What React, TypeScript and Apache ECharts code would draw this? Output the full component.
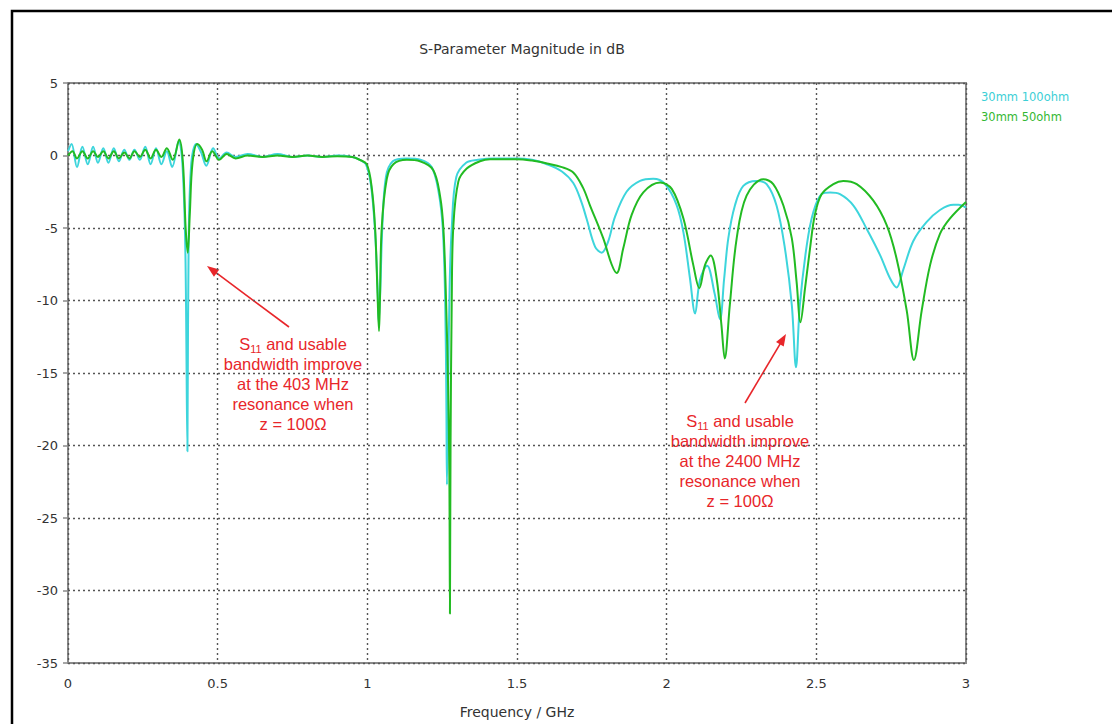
import React, { useEffect, useRef } from "react";
import * as echarts from "echarts";

const chartTitle = "S-Parameter Magnitude in dB";
const xName = "Frequency / GHz";
const seriesNames = ["30mm 100ohm", "30mm 50ohm"];

// 30mm 100ohm (cyan)
const freq100 = [
  0.0, 0.012, 0.03, 0.048, 0.066, 0.084, 0.1, 0.118, 0.135, 0.153, 0.17, 0.188, 0.205, 0.222, 0.24, 0.258, 0.276,
  0.294, 0.312, 0.33, 0.348, 0.37, 0.382, 0.392, 0.399, 0.403, 0.412, 0.428, 0.445, 0.462, 0.485, 0.505, 0.53, 0.56,
  0.6, 0.65, 0.7, 0.75, 0.8, 0.85, 0.9, 0.95, 0.975, 0.995, 1.012, 1.025, 1.034, 1.038, 1.043, 1.05, 1.062, 1.085,
  1.13, 1.18, 1.215, 1.238, 1.252, 1.26, 1.264, 1.266, 1.27, 1.275, 1.282, 1.297, 1.33, 1.37, 1.42, 1.5, 1.55, 1.6,
  1.65, 1.688, 1.715, 1.733, 1.761, 1.783, 1.805, 1.827, 1.866, 1.911, 1.955, 1.994, 2.033, 2.056, 2.078, 2.095,
  2.111, 2.135, 2.16, 2.178, 2.192, 2.206, 2.228, 2.256, 2.3, 2.334, 2.367, 2.395, 2.418, 2.432, 2.445, 2.468, 2.49,
  2.518, 2.546, 2.579, 2.624, 2.668, 2.713, 2.746, 2.768, 2.79, 2.824, 2.868, 2.913, 2.958, 2.975, 3.0,
];
const s100 = [
  0.3, 0.8, -0.8, 0.6, -0.6, 0.6, -0.5, 0.5, -0.5, 0.5, -0.4, 0.4, -0.3, 0.4, -0.3, 0.6, -0.6,
  0.5, -0.6, 0.3, -0.8, 1.0, -0.5, -6.5, -20.4, -6.0, -0.5, 0.8, 0.2, -0.7, 0.5, -0.2, 0.2, -0.1,
  0.1, -0.1, 0.1, -0.1, 0.0, -0.1, 0.0, -0.1, -0.3, -0.6, -2.0, -5.0, -9.0, -11.5, -9.5, -5.0, -1.5, -0.4,
  -0.2, -0.3, -0.8, -2.5, -5.0, -10.0, -17.0, -22.7, -16.0, -9.0, -5.0, -1.5, -0.5, -0.3, -0.2, -0.2, -0.3, -0.6,
  -1.1, -1.9, -3.2, -4.4, -6.3, -6.7, -5.9, -4.25, -2.5, -1.75, -1.6, -1.95, -3.4, -5.3, -8.5, -10.9,
  -8.6, -7.6, -9.5, -11.3, -8.5, -5.7, -3.45, -2.1, -1.75, -1.97, -3.45, -6.4, -10.3, -14.6, -10.3, -6.2, -3.9,
  -2.66, -2.55, -2.66, -3.45, -5.05, -6.87, -8.47, -9.1, -7.9, -5.9, -4.6, -3.76, -3.4, -3.4, -3.6,
];

// 30mm 50ohm (green)
const freq50 = [
  0.0, 0.015, 0.03, 0.048, 0.066, 0.084, 0.1, 0.118, 0.135, 0.153, 0.17, 0.188, 0.205, 0.222, 0.24, 0.258, 0.276,
  0.294, 0.312, 0.33, 0.35, 0.372, 0.384, 0.393, 0.4, 0.407, 0.416, 0.432, 0.448, 0.463, 0.482, 0.505, 0.53, 0.56,
  0.6, 0.65, 0.7, 0.75, 0.8, 0.85, 0.9, 0.95, 0.975, 0.998, 1.014, 1.026, 1.034, 1.039, 1.042, 1.048, 1.065, 1.087,
  1.132, 1.176, 1.22, 1.243, 1.254, 1.263, 1.27, 1.274, 1.276, 1.278, 1.282, 1.287, 1.304, 1.332, 1.376, 1.41, 1.5,
  1.55, 1.6, 1.65, 1.688, 1.72, 1.744, 1.788, 1.816, 1.833, 1.855, 1.883, 1.922, 1.978, 2.017, 2.056, 2.089, 2.109,
  2.128, 2.147, 2.167, 2.183, 2.194, 2.211, 2.234, 2.267, 2.323, 2.356, 2.39, 2.418, 2.434, 2.447, 2.462, 2.479,
  2.495, 2.518, 2.557, 2.59, 2.635, 2.69, 2.735, 2.768, 2.802, 2.826, 2.852, 2.88, 2.913, 2.946, 3.0,
];
const s50 = [
  0.0, 0.3, -0.2, 0.3, -0.2, 0.3, -0.1, 0.3, -0.2, 0.3, -0.2, 0.2, -0.2, 0.3, -0.1, 0.4, -0.2,
  0.4, -0.1, 0.5, -0.3, 1.1, -0.5, -5.0, -6.7, -4.0, -0.5, 0.8, 0.4, -0.4, 0.3, -0.3, 0.1, -0.2,
  0.0, -0.1, 0.0, -0.1, 0.0, -0.1, -0.05, -0.1, -0.3, -0.6, -2.1, -5.0, -9.5, -12.1, -10.0, -5.0, -1.6, -0.6,
  -0.3, -0.4, -1.0, -2.8, -5.0, -10.0, -16.0, -22.0, -31.6, -20.0, -10.0, -5.0, -1.8, -0.9, -0.4, -0.25, -0.25,
  -0.35, -0.55, -0.8, -1.17, -2.2, -3.45, -5.7, -7.5, -8.1, -6.4, -4.1, -2.54, -1.86, -2.3, -4.35, -7.56, -9.15,
  -7.56, -6.9, -8.5, -11.7, -14.0, -10.3, -5.7, -2.77, -1.63, -1.97, -3.45, -5.7, -8.7, -11.5, -9.2, -6.4,
  -4.1, -2.66, -1.97, -1.75, -1.97, -3.1, -4.8, -7.1, -10.7, -14.1, -10.7, -7.56, -5.4, -4.35, -3.2,
];

const note1 = "S{sub|11} and usable\nbandwidth improve\nat the 403 MHz\nresonance when\nz = 100Ω";
const note2 = "S{sub|11} and usable\nbandwidth improve\nat the 2400 MHz\nresonance when\nz = 100Ω";

const CYAN = "#3dd5dc";
const GREEN = "#22bb22";
const RED = "#e8262a";
const GRID_FONT = "DejaVu Sans, Tahoma, Verdana, sans-serif";

function arrow(x1: number, y1: number, x2: number, y2: number) {
  const dx = x2 - x1;
  const dy = y2 - y1;
  const len = Math.sqrt(dx * dx + dy * dy);
  const ux = dx / len;
  const uy = dy / len;
  const hl = 12;
  const hw = 4.5;
  const bx = x2 - ux * hl;
  const by = y2 - uy * hl;
  return [
    {
      type: "line",
      shape: { x1, y1, x2: bx + ux * 2, y2: by + uy * 2 },
      style: { stroke: RED, lineWidth: 1.6 },
      silent: true,
    },
    {
      type: "polygon",
      shape: {
        points: [
          [x2, y2],
          [bx - uy * hw, by + ux * hw],
          [bx + uy * hw, by - ux * hw],
        ],
      },
      style: { fill: RED },
      silent: true,
    },
  ];
}

function noteText(x: number, y: number, text: string) {
  return {
    type: "text",
    x,
    y,
    style: {
      text,
      fill: RED,
      fontSize: 16.5,
      fontFamily: "Liberation Sans, Arial, sans-serif",
      lineHeight: 20,
      align: "center",
      verticalAlign: "top",
      rich: {
        sub: {
          fontSize: 11,
          fill: RED,
          fontFamily: "Liberation Sans, Arial, sans-serif",
          verticalAlign: "bottom",
          lineHeight: 20,
        },
      },
    },
    silent: true,
  };
}

export default function App() {
  const ref = useRef<HTMLDivElement>(null);
  useEffect(() => {
    if (!ref.current) return;
    const chart = echarts.init(ref.current, null, { renderer: "svg" });
    const gridLine = { color: "#555", width: 1.4, type: [2, 3] as any };
    chart.setOption({
      animation: false,
      backgroundColor: "#fff",
      title: {
        text: chartTitle,
        left: 517,
        top: 37,
        textAlign: "center",
        textStyle: { fontSize: 14, fontWeight: "normal", color: "#333", fontFamily: GRID_FONT },
      },
      grid: {
        left: 68,
        top: 83,
        width: 898,
        height: 585,
        show: true,
        borderColor: "#8a8a8a",
        borderWidth: 2,
        backgroundColor: "transparent",
      },
      xAxis: {
        type: "value",
        min: 0,
        max: 3,
        interval: 0.5,
        name: xName,
        nameLocation: "middle",
        nameGap: 42,
        nameTextStyle: { fontSize: 14, color: "#333", fontFamily: GRID_FONT },
        axisLine: { show: false },
        axisTick: { show: true, length: 5, lineStyle: { color: "#8a8a8a", width: 1.5 } },
        axisLabel: { margin: 14, fontSize: 13, color: "#333", fontFamily: GRID_FONT },
        splitLine: { show: true, lineStyle: gridLine },
      },
      yAxis: {
        type: "value",
        min: -35,
        max: 5,
        interval: 5,
        axisLine: { show: false },
        axisTick: { show: true, length: 5, lineStyle: { color: "#8a8a8a", width: 1.5 } },
        axisLabel: { margin: 10, fontSize: 13, color: "#333", fontFamily: GRID_FONT },
        splitLine: { show: true, lineStyle: gridLine },
      },
      series: [
        {
          name: seriesNames[0],
          type: "line",
          data: freq100.map((f, i) => [f, s100[i]]),
          showSymbol: false,
          smooth: 0.35,
          lineStyle: { color: CYAN, width: 2 },
          itemStyle: { color: CYAN },
        },
        {
          name: seriesNames[1],
          type: "line",
          data: freq50.map((f, i) => [f, s50[i]]),
          showSymbol: false,
          smooth: 0.35,
          lineStyle: { color: GREEN, width: 2 },
          itemStyle: { color: GREEN },
        },
      ],
      graphic: [
        {
          type: "rect",
          shape: { x: 12, y: 11, width: 1200, height: 800 },
          style: { fill: "none", stroke: "#000", lineWidth: 2.5 },
          silent: true,
        },
        {
          type: "text",
          x: 981,
          y: 97,
          style: {
            text: seriesNames[0],
            fill: "#3ccfd6",
            fontSize: 11.5,
            fontFamily: GRID_FONT,
            verticalAlign: "middle",
          },
        },
        {
          type: "text",
          x: 981,
          y: 117,
          style: {
            text: seriesNames[1],
            fill: "#33b833",
            fontSize: 11.5,
            fontFamily: GRID_FONT,
            verticalAlign: "middle",
          },
        },
        ...arrow(289, 327, 207, 266),
        ...arrow(745, 403, 786, 334),
        noteText(293, 334, note1),
        noteText(740, 411, note2),
      ],
    });
    return () => chart.dispose();
  }, []);
  return (
    <div
      ref={ref}
      style={{ position: "absolute", left: 0, top: 0, width: 1112, height: 724 }}
    />
  );
}
